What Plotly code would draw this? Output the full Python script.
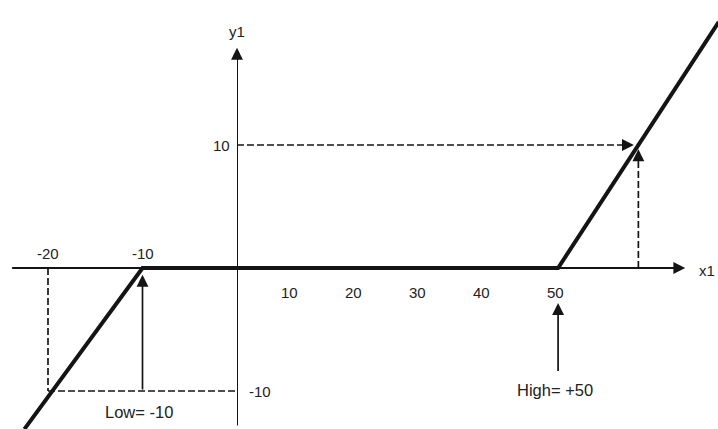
import plotly.graph_objects as go

# Transfer characteristic of a dead-zone block (input x1, output y1)
low_limit = -10
high_limit = 50

# Breakpoints of the characteristic, split at the origin
neg_x = [-22.5, -10, 0]
neg_y = [-13.1, 0, 0]
pos_x = [0, 50, 75]
pos_y = [0, 0, 20]

# Worked example points shown with dashed guides
neg_probe_x = -20
neg_probe_y = -10
pos_probe_x = 62.5
pos_probe_y = 10

# Tick labels along the axes
pos_ticks = [10, 20, 30, 40, 50]
neg_ticks = [-20, -10]
y_ticks = [10, -10]

INK = "#141414"
TXT = "#222222"
FONT = dict(family="Liberation Sans, Arial, sans-serif", size=15, color=TXT)

W, H = 718, 429
split = 237 / W  # horizontal position of the y1 axis

x_neg_range = [-25.08, 0]
x_pos_range = [0, 74.9]
y_range = [-13.09, 21.79]

fig = go.Figure()

fig.add_trace(go.Scatter(x=neg_x, y=neg_y, mode="lines", xaxis="x", yaxis="y",
                         line=dict(color=INK, width=4), hoverinfo="skip"))
fig.add_trace(go.Scatter(x=pos_x, y=pos_y, mode="lines", xaxis="x2", yaxis="y",
                         line=dict(color=INK, width=4), hoverinfo="skip"))

shapes = []
axis_line = dict(color=INK, width=2)
dash_line = dict(color=INK, width=1.7, dash="7px,3px")

# x1 axis (both halves) and y1 axis
shapes.append(dict(type="line", xref="x", yref="y", x0=-23.8, x1=0, y0=0, y1=0, line=axis_line))
shapes.append(dict(type="line", xref="x2", yref="y", x0=0, x1=69.0, y0=0, y1=0, line=axis_line))
shapes.append(dict(type="line", xref="x2", yref="y", x0=0, x1=0, y0=-12.8, y1=17.2, line=axis_line))

# dashed guides, negative side
shapes.append(dict(type="line", xref="x", yref="y", x0=neg_probe_x, x1=neg_probe_x,
                   y0=0, y1=neg_probe_y, line=dash_line))
shapes.append(dict(type="line", xref="x", yref="y", x0=neg_probe_x, x1=0,
                   y0=neg_probe_y, y1=neg_probe_y, line=dash_line))
# dashed guides, positive side
shapes.append(dict(type="line", xref="x2", yref="y", x0=0, x1=pos_probe_x - 1.2,
                   y0=pos_probe_y, y1=pos_probe_y, line=dash_line))
shapes.append(dict(type="line", xref="x2", yref="y", x0=pos_probe_x, x1=pos_probe_x,
                   y0=0, y1=pos_probe_y - 0.6, line=dash_line))

ann = []

def head(xref, x, y, ax, ay, standoff=0):
    ann.append(dict(xref=xref, yref="y", x=x, y=y, ax=ax, ay=ay, axref="pixel", ayref="pixel",
                    text="", showarrow=True, arrowhead=2, arrowsize=1.4, arrowwidth=1.7,
                    arrowcolor=INK, standoff=standoff))

def label(xref, x, y, text, xshift=0, yshift=0, xanchor="center", size=15):
    f = dict(FONT)
    f["size"] = size
    ann.append(dict(xref=xref, yref="y", x=x, y=y, text=text, showarrow=False,
                    xshift=xshift, yshift=yshift, xanchor=xanchor, yanchor="middle", font=f))

# axis arrowheads
head("x2", 69.8, 0, -9, 0)
head("x2", 0, 17.9, 0, 9)
# dashed guide arrowheads
head("x2", pos_probe_x - 0.7, pos_probe_y, -9, 0)
head("x2", pos_probe_x, pos_probe_y - 0.35, 0, 9)

# solid marker arrows for the limits
ann.append(dict(xref="x", yref="y", x=low_limit, y=-0.55, ax=low_limit, ay=neg_probe_y,
                axref="x", ayref="y", text="", showarrow=True, arrowhead=2, arrowsize=1.4,
                arrowwidth=1.7, arrowcolor=INK))
ann.append(dict(xref="x2", yref="y", x=high_limit, y=-2.85, ax=high_limit, ay=-8.5,
                axref="x2", ayref="y", text="", showarrow=True, arrowhead=2, arrowsize=1.4,
                arrowwidth=1.7, arrowcolor=INK))

# tick labels
for t in pos_ticks:
    label("x2", t, 0, str(t), xshift=-3 if t == high_limit else -12, yshift=-24)
for t in neg_ticks:
    label("x", t, 0, str(t), yshift=15)
label("x2", 0, y_ticks[0], str(y_ticks[0]), xanchor="right", xshift=-5)
label("x2", 0, y_ticks[1], str(y_ticks[1]), xanchor="left", xshift=10)

# axis names and limit captions
label("x2", 0, 17.9, "y1", yshift=16)
label("x2", 69.8, 0, "x1", xanchor="left", xshift=12, yshift=-2)
label("x", low_limit, neg_probe_y, "Low= -10", xshift=-4, yshift=-21, size=16.5)
label("x2", high_limit, neg_probe_y, "High= +50", xshift=-3, yshift=1, size=16.5)

fig.update_layout(
    width=W, height=H,
    margin=dict(l=0, r=0, t=0, b=0),
    paper_bgcolor="white", plot_bgcolor="white",
    showlegend=False,
    xaxis=dict(domain=[0, split], range=x_neg_range, visible=False, fixedrange=True),
    xaxis2=dict(domain=[split, 1], range=x_pos_range, visible=False, anchor="y", fixedrange=True),
    yaxis=dict(domain=[0, 1], range=y_range, visible=False, fixedrange=True),
    shapes=shapes,
    annotations=ann,
)

fig.write_html("out.html")
